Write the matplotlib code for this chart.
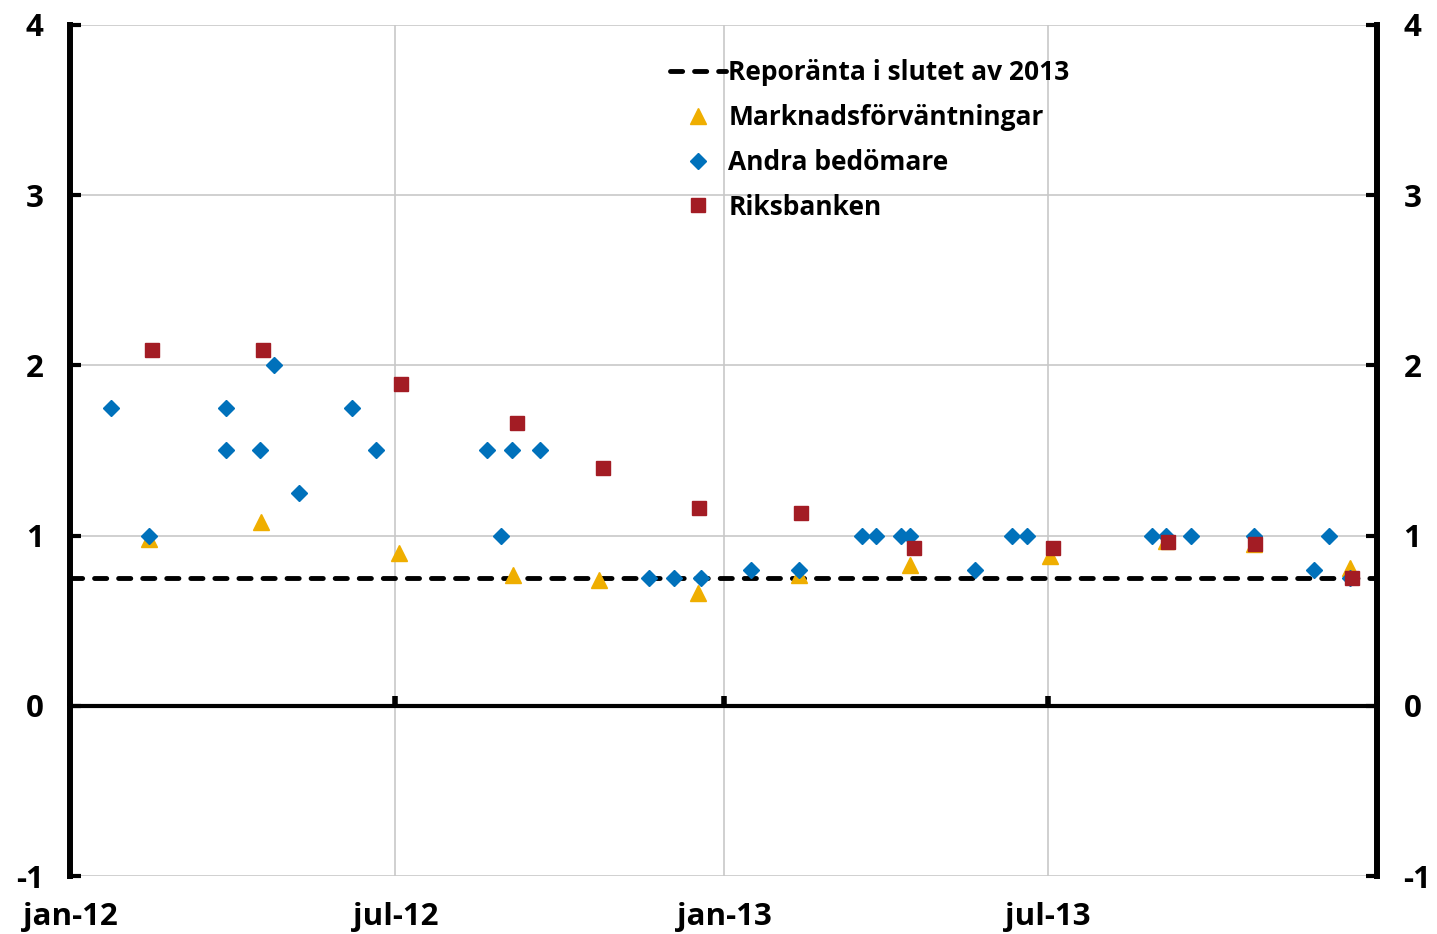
import matplotlib
matplotlib.use("Agg")
import matplotlib.pyplot as plt
import matplotlib.dates as mdates
import pandas as pd

plt.rcParams['font.family'] = ['Open Sans', 'DejaVu Sans']
plt.rcParams['font.weight'] = 'bold'
plt.rcParams['axes.unicode_minus'] = False

# repo rate at end of 2013 (reference line)
repo_level = 0.75
x_start = '2012-01-01'
x_end = '2014-01-01'

# market expectations (triangles)
market_dates = ['2012-02-14', '2012-04-17', '2012-07-03', '2012-09-05', '2012-10-23',
                '2012-12-17', '2013-02-12', '2013-04-15', '2013-07-02', '2013-09-05',
                '2013-10-24', '2013-12-17']
market_vals = [0.98, 1.08, 0.90, 0.77, 0.74, 0.66, 0.77, 0.83, 0.88, 0.97, 0.95, 0.81]

# other forecasters (diamonds)
other_dates = ['2012-01-24', '2012-02-14', '2012-03-28', '2012-03-28', '2012-04-16',
               '2012-04-24', '2012-05-08', '2012-06-07', '2012-06-20', '2012-08-21',
               '2012-08-29', '2012-09-04', '2012-09-20', '2012-11-20', '2012-12-04',
               '2012-12-19', '2013-01-16', '2013-02-12', '2013-03-19', '2013-03-27',
               '2013-04-10', '2013-04-15', '2013-05-21', '2013-06-11', '2013-06-19',
               '2013-08-28', '2013-09-05', '2013-09-19', '2013-10-24', '2013-11-27',
               '2013-12-05', '2013-12-17']
other_vals = [1.75, 1.0, 1.75, 1.5, 1.5,
              2.0, 1.25, 1.75, 1.5, 1.5,
              1.0, 1.5, 1.5, 0.75, 0.75,
              0.75, 0.8, 0.8, 1.0, 1.0,
              1.0, 1.0, 0.8, 1.0, 1.0,
              1.0, 1.0, 1.0, 1.0, 0.8,
              1.0, 0.75]

# Riksbank forecasts (squares)
rb_dates = ['2012-02-16', '2012-04-18', '2012-07-04', '2012-09-07', '2012-10-25',
            '2012-12-18', '2013-02-13', '2013-04-17', '2013-07-04', '2013-09-06',
            '2013-10-25', '2013-12-18']
rb_vals = [2.09, 2.09, 1.89, 1.66, 1.40, 1.16, 1.13, 0.93, 0.93, 0.96, 0.95, 0.75]

xtick_dates = ['2012-01-01', '2012-07-01', '2013-01-01', '2013-07-01']
xtick_labels = ['jan-12', 'jul-12', 'jan-13', 'jul-13']
yticks = [-1, 0, 1, 2, 3, 4]

yellow = '#EFAE00'
blue = '#0071BB'
red = '#A31C24'

fig = plt.figure(figsize=(14.37, 9.34), dpi=100)
ax = fig.add_axes([70 / 1437, 1 - 876 / 934, (1377 - 70) / 1437, (876 - 25) / 934])

xs = pd.to_datetime([x_start, x_end])
ax.plot(xs, [repo_level, repo_level], color='black', lw=3.5, dashes=(2.5, 2.45),
        dash_capstyle='round', label='Reporänta i slutet av 2013', zorder=2)
ax.plot(pd.to_datetime(market_dates), market_vals, ls='none', marker='^', ms=11,
        color=yellow, label='Marknadsförväntningar', zorder=3)
ax.plot(pd.to_datetime(other_dates), other_vals, ls='none', marker='D', ms=8.5,
        color=blue, label='Andra bedömare', zorder=4)
ax.plot(pd.to_datetime(rb_dates), rb_vals, ls='none', marker='s', ms=10,
        color=red, label='Riksbanken', zorder=5)

ax.set_xlim(xs[0], xs[1])
ax.set_ylim(-1, 4)
ax.set_yticks(yticks)

ax.xaxis.set_major_locator(mdates.MonthLocator(bymonth=[1, 7]))
ax.grid(True, color='#C8C8C8', lw=1.2)
ax.set_axisbelow(True)

ax.spines['top'].set_visible(False)
ax.spines['bottom'].set_position(('data', 0))
ax.spines['bottom'].set_linewidth(3)
ax.spines['bottom'].set_zorder(1.5)
ax.spines['left'].set_linewidth(4.3)
ax.spines['right'].set_linewidth(4.3)

ax.tick_params(axis='x', direction='in', length=7, width=4, labelbottom=False)
ax.tick_params(axis='y', direction='in', length=8, width=3, left=True, right=True,
               labelleft=True, labelright=True, labelsize=22.5, pad=19)

sec = ax.secondary_xaxis(0)
sec.set_xticks(mdates.date2num(pd.to_datetime(xtick_dates)), xtick_labels)
sec.spines['bottom'].set_visible(False)
sec.tick_params(axis='x', length=0, labelsize=22.5, pad=19)

ax.legend(loc='upper left', bbox_to_anchor=(0.4594, 0.9595), frameon=False,
          fontsize=19, handlelength=2.1, handletextpad=0.1, labelspacing=0.67,
          borderpad=0, borderaxespad=0)

fig.savefig('out.png', dpi=100)
